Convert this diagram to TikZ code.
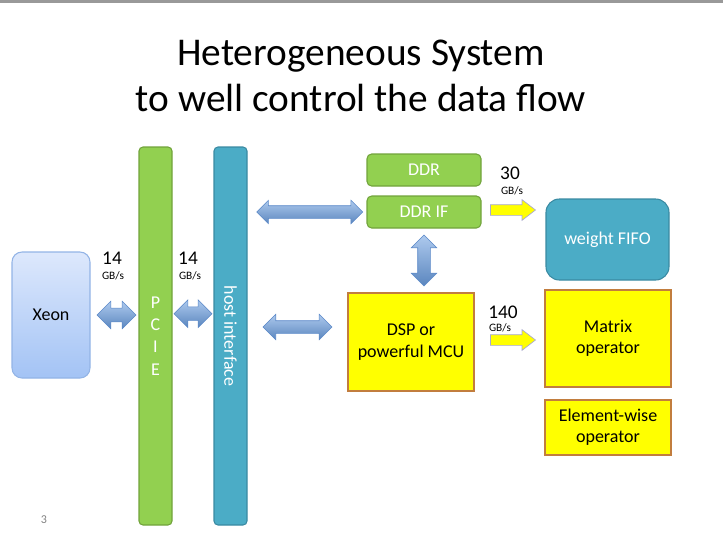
\documentclass[tikz,border=0pt]{standalone}
\usepackage{fontspec}
\setmainfont{Carlito}
\usetikzlibrary{shapes.arrows,calc}

\definecolor{verdef}{HTML}{92D050}
\definecolor{verdeb}{HTML}{71A33B}
\definecolor{azulf}{HTML}{4BACC6}
\definecolor{azulb}{HTML}{3A8AA2}
\definecolor{amaref}{HTML}{FFFF00}
\definecolor{amareb}{HTML}{C27D3E}
\definecolor{setaf}{HTML}{6B9EE0}
\definecolor{setab}{HTML}{5A88C8}
\definecolor{xeonc}{HTML}{DDE8FC}
\definecolor{xeonb}{HTML}{A3C3F5}
\definecolor{xeonl}{HTML}{93B4E6}

\begin{document}
\begin{tikzpicture}[x=0.75pt, y=-0.75pt,
    texto/.style={font=\fontsize{13.5}{16}\selectfont},
    verde/.style={texto, draw=verdeb, fill=verdef, text=white, line width=0.8pt, rounded corners=3.5pt, inner sep=0pt},
    azul/.style={texto, draw=azulb, fill=azulf, text=white, line width=0.8pt, inner sep=0pt},
    amarelo/.style={texto, draw=amareb, fill=amaref, line width=1pt, inner sep=0pt, align=center},
    bseta/.style={double arrow, draw=setab, line width=0.4pt, top color=setaf!55!white, bottom color=setaf!85!black,
        inner sep=4.9pt, double arrow head extend=5.25pt},
    yseta/.style={single arrow, draw=gray!60!blue!50, fill=amaref, line width=0.5pt, inner sep=3.75pt,
        single arrow head extend=3.75pt, single arrow tip angle=75, minimum height=33.75pt},
    grande/.style={font=\fontsize{14.5}{16}\selectfont},
    pequeno/.style={font=\fontsize{8.5}{10}\selectfont}]
    \useasboundingbox (0,0) rectangle (723,543);

    % Moldura e titulo
    \fill[gray!80] (0,0) rectangle (723,2.5);
    \node[font=\fontsize{29.5}{34.5}\selectfont, align=center] (titulo) at (361,76) {Heterogeneous System\\to well control the data flow};
    \node[gray, font=\fontsize{9}{10}\selectfont] (pagina) at (44,520) {3};

    % Blocos
    \node[texto, draw=xeonl, top color=xeonc, bottom color=xeonb, line width=0.8pt,
        rounded corners=7.5pt, minimum width=58.5pt, minimum height=94.5pt] (xeon) at (51,315) {Xeon};
    \node[verde, rounded corners=3pt, minimum width=24.75pt, minimum height=283.5pt, align=center,
        font=\fontsize{13.5}{16.75}\selectfont] (pcie) at (155.5,336) {P\\C\\I\\E};
    \node[azul, rounded corners=3pt, minimum width=24.75pt, minimum height=283.5pt] (host) at (230.5,336) {};
    \node[texto, white, rotate=-90] (hostt) at (host.center) {host interface};
    \node[verde, minimum width=85.5pt, minimum height=24pt] (ddr) at (424,170) {DDR};
    \node[verde, minimum width=85.5pt, minimum height=24pt] (ddrif) at (424,212) {DDR IF};
    \node[amarelo, minimum width=94.5pt, minimum height=73.5pt] (dsp) at (411,342) {DSP or\\powerful MCU};
    \node[azul, rounded corners=10pt, minimum width=92.25pt, minimum height=60.75pt] (fifo) at (607.5,239.5) {weight FIFO};
    \node[amarelo, minimum width=94.5pt, minimum height=72.75pt] (matriz) at (608,338.5) {Matrix\\operator};
    \node[amarelo, minimum width=94.5pt, minimum height=41.25pt] (elem) at (608,427.5) {Element-wise\\operator};

    % Setas azuis
    \path (xeon.east) -- (pcie.west |- xeon.east) node[midway, bseta, minimum height=29.25pt, xshift=1.5pt] (s1) {};
    \path (pcie.east |- s1) -- (host.west |- s1) node[midway, bseta, minimum height=28.5pt, yshift=1pt] (s2) {};
    \path (host.east |- ddrif) -- (ddrif.west) node[midway, bseta, minimum height=79.5pt, inner sep=4.5pt,
        double arrow head extend=4.1pt, xshift=2pt] (s3) {};
    \path (ddrif.south) -- (ddrif.south |- dsp.north) node[midway, bseta, shape border rotate=90, minimum height=38.25pt,
        inner sep=4.5pt, double arrow head extend=4.9pt] (s4) {};
    \path (host.east |- dsp) -- (dsp.west) node[midway, bseta, minimum height=51.75pt, inner sep=4.5pt,
        double arrow head extend=4.9pt, yshift=11.25pt] (s5) {};

    % Setas amarelas
    \path (ddrif.east) -- (fifo.west |- ddrif.east) node[midway, yseta, xshift=-3pt, yshift=1.5pt] (y1) {};
    \path (dsp.east) -- (matriz.west |- dsp.east) node[midway, yseta, yshift=1.5pt] (y2) {};

    % Taxas
    \node[grande] (t1) at (112,258) {14};
    \node[pequeno] (g1) at (113,276) {GB/s};
    \node[grande] (t2) at (188,258) {14};
    \node[pequeno] (g2) at (190,276) {GB/s};
    \node[grande] (t3) at (510,173) {30};
    \node[pequeno] (g3) at (512,191) {GB/s};
    \node[grande] (t4) at (503,312) {140};
    \node[pequeno] (g4) at (500,328) {GB/s};
\end{tikzpicture}
\end{document}
